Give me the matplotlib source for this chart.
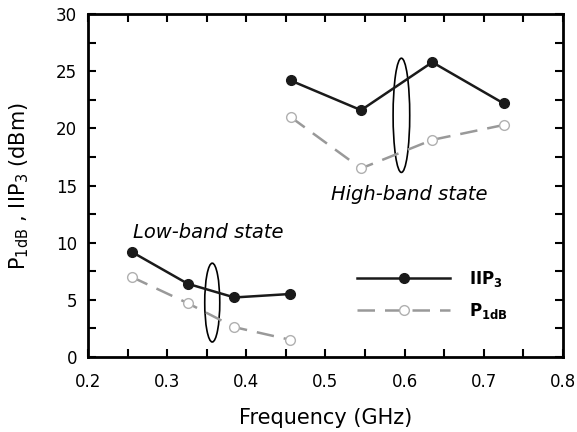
import matplotlib
matplotlib.use("Agg")
import matplotlib.pyplot as plt
from matplotlib.patches import Ellipse
from matplotlib.ticker import MultipleLocator

plt.rcParams['font.family'] = ['DejaVu Sans']
plt.rcParams['mathtext.default'] = 'regular'

# low-band state
low_freq = [0.255, 0.326, 0.385, 0.455]
low_iip3 = [9.2, 6.4, 5.2, 5.5]
low_p1db = [7.0, 4.7, 2.6, 1.5]

# high-band state
high_freq = [0.456, 0.545, 0.635, 0.725]
high_iip3 = [24.2, 21.6, 25.8, 22.2]
high_p1db = [21.0, 16.5, 19.0, 20.3]

fig = plt.figure(figsize=(5.77, 4.32), dpi=100)
ax = fig.add_axes([0.1525, 0.174, 0.823, 0.793])

iip3_style = dict(color='#1a1a1a', lw=1.8, marker='o', ms=7, mfc='#1a1a1a', mec='#1a1a1a')
p1db_style = dict(color='#999999', lw=1.8, ls=(0, (7, 4)), marker='o', ms=7,
                  mfc='white', mec='#b0b0b0', mew=1.0)

ax.plot(low_freq, low_iip3, label=r'IIP$_3$', **iip3_style)
ax.plot(low_freq, low_p1db, label=r'P$_{1dB}$', **p1db_style)
ax.plot(high_freq, high_iip3, **iip3_style)
ax.plot(high_freq, high_p1db, **p1db_style)

# ellipses grouping the two curves
ax.add_patch(Ellipse((0.357, 4.75), 0.019, 6.9, fill=False, ec='black', lw=1.2))
ax.add_patch(Ellipse((0.596, 21.15), 0.021, 10.0, fill=False, ec='black', lw=1.2))

ax.text(0.2565, 10.45, 'Low-band state', fontsize=14, style='italic')
ax.text(0.5065, 13.7, 'High-band state', fontsize=14, style='italic')

ax.set_xlim(0.2, 0.8)
ax.set_ylim(0, 30)
ax.xaxis.set_major_locator(MultipleLocator(0.1))
ax.xaxis.set_minor_locator(MultipleLocator(0.05))
ax.yaxis.set_major_locator(MultipleLocator(5))
ax.yaxis.set_minor_locator(MultipleLocator(2.5))
ax.tick_params(which='both', direction='in', top=True, right=True, length=6, width=1.5,
               labelsize=12)
ax.tick_params(axis='x', pad=12)
ax.tick_params(axis='y', pad=8)
for s in ax.spines.values():
    s.set_linewidth(2)

ax.set_xlabel('Frequency (GHz)', fontsize=15, labelpad=12)
ax.set_ylabel(r'P$_{1dB}$ , IIP$_3$ (dBm)', fontsize=15, labelpad=18)

leg = ax.legend(loc='upper left', bbox_to_anchor=(0.535, 0.3), frameon=False,
                handlelength=5.6, handletextpad=1.1, labelspacing=0.7,
                prop={'weight': 'bold', 'size': 12})

fig.savefig('out.png', dpi=100)
